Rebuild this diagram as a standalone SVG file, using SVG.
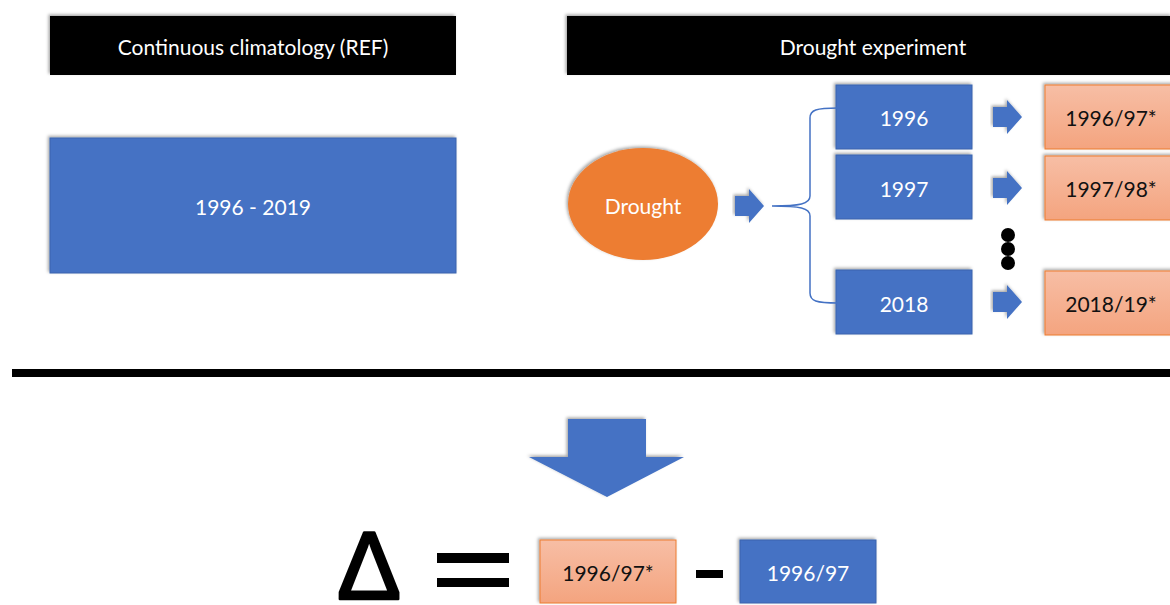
<svg xmlns="http://www.w3.org/2000/svg" width="1170" height="605" viewBox="0 0 1170 605">
<defs>
<filter id="sh" x="-10%" y="-10%" width="120%" height="120%">
<feDropShadow dx="-1.5" dy="-1.5" stdDeviation="1.5" flood-color="#000" flood-opacity="0.35"/>
</filter>
<linearGradient id="sal" x1="0" y1="0" x2="0" y2="1">
<stop offset="0" stop-color="#F7BEA5"/>
<stop offset="1" stop-color="#F4A47F"/>
</linearGradient>
<path id="arr" d="M0,-10 H14 V-17 L29,0 L14,17 V10 H0 Z"/>
</defs>
<style>
.hdr{fill:#000;filter:url(#sh)}
.blue{fill:#4472C4;stroke:#3A64AE;stroke-width:1;filter:url(#sh)}
.sal{fill:url(#sal);stroke:#ED7D31;stroke-width:1;filter:url(#sh)}
.t{font-family:"Lato","Open Sans",sans-serif;font-size:21px;text-anchor:middle;dominant-baseline:central}
.w{fill:#fff}
.k{fill:#111}
.ar{fill:#4472C4;filter:url(#sh)}
</style>
<rect width="1170" height="605" fill="#fff"/>

<g id="hdr-ref">
<rect class="hdr" x="50" y="16" width="406" height="59"/>
<text class="t w" x="253" y="46">Continuous climatology (REF)</text>
</g>
<g id="hdr-drought">
<rect class="hdr" x="567" y="16" width="605" height="59"/>
<text class="t w" x="873" y="46">Drought experiment</text>
</g>
<g id="ref-box">
<rect class="blue" x="50" y="138" width="406" height="135"/>
<text class="t w" x="253" y="206">1996 - 2019</text>
</g>
<g id="drought">
<ellipse cx="643" cy="204" rx="75" ry="56" fill="#ED7D31" filter="url(#sh)"/>
<text class="t w" x="643" y="205">Drought</text>
</g>
<g id="y1996">
<rect class="blue" x="836" y="85" width="136" height="64"/>
<text class="t w" x="904" y="117">1996</text>
</g>
<g id="y1997">
<rect class="blue" x="836" y="155" width="136" height="64"/>
<text class="t w" x="904" y="188">1997</text>
</g>
<g id="y2018">
<rect class="blue" x="836" y="270" width="136" height="64"/>
<text class="t w" x="904" y="303">2018</text>
</g>
<g id="r1996">
<rect class="sal" x="1045" y="85" width="136" height="64"/>
<text class="t k" x="1111" y="117">1996/97*</text>
</g>
<g id="r1997">
<rect class="sal" x="1045" y="156" width="136" height="64"/>
<text class="t k" x="1111" y="188">1997/98*</text>
</g>
<g id="r2018">
<rect class="sal" x="1045" y="271" width="136" height="64"/>
<text class="t k" x="1111" y="303">2018/19*</text>
</g>
<g id="dots" fill="#000">
<circle cx="1008" cy="235" r="7"/>
<circle cx="1008" cy="249" r="7"/>
<circle cx="1008" cy="263" r="7"/>
</g>
<g id="divider">
<rect x="12" y="369" width="1160" height="8" fill="#000"/>
</g>
<g id="formula">
<text x="369" y="599" font-family="'Liberation Sans',sans-serif" font-size="96" text-anchor="middle" fill="#000" stroke="#000" stroke-width="2.5" stroke-linejoin="round">Δ</text>
<rect x="437" y="553" width="72" height="10" fill="#000"/>
<rect x="437" y="578" width="72" height="9" fill="#000"/>
<rect x="696" y="570" width="27" height="8" fill="#000"/>
</g>
<g id="delta-a">
<rect class="sal" x="540" y="540" width="136" height="63"/>
<text class="t k" x="608" y="572">1996/97*</text>
</g>
<g id="delta-b">
<rect class="blue" x="740" y="540" width="136" height="63"/>
<text class="t w" x="808" y="572">1996/97</text>
</g>

<g id="connectors">
<use href="#arr" x="735" y="206" class="ar"/>
<path d="M838,108 C816,108 810,110 810,118 L810,196 C810,204 800,206 772,206 C800,206 810,208 810,216 L810,293 C810,301 816,303 838,303" fill="none" stroke="#4472C4" stroke-width="1.5"/>
<use href="#arr" x="993" y="117" class="ar"/>
<use href="#arr" x="993" y="188" class="ar"/>
<use href="#arr" x="993" y="302" class="ar"/>
<path class="ar" d="M568,419 H646 V457 H684 L607,497 L529,457 H568 Z"/>
</g>
</svg>
